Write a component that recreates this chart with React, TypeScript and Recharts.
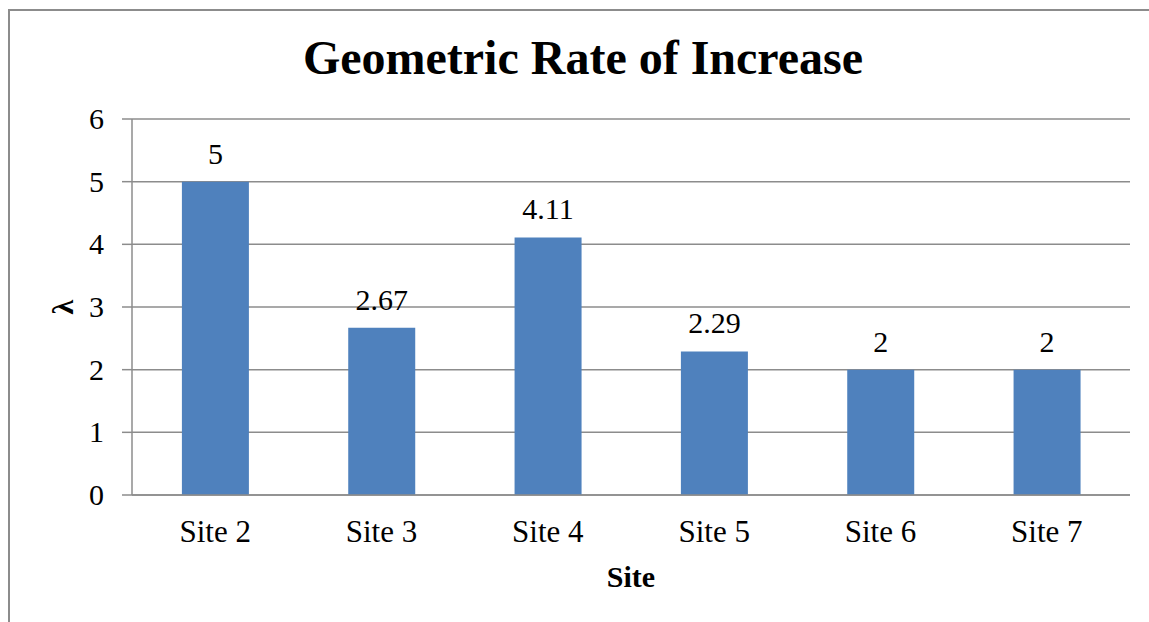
import React from "react";
import { BarChart, Bar, XAxis, YAxis, CartesianGrid, LabelList } from "recharts";

const sites = ["Site 2", "Site 3", "Site 4", "Site 5", "Site 6", "Site 7"];
const lambdaValues = [5, 2.67, 4.11, 2.29, 2, 2];
const yTicks = [0, 1, 2, 3, 4, 5, 6];

const data = sites.map((s, i) => ({ site: s, value: lambdaValues[i] }));

const FONT = '"Liberation Serif", "Times New Roman", serif';
const GRAY = "#8c8c8c";

const XTick = (props: any) => {
  const { x, y, payload } = props;
  return (
    <text x={x} y={y + 39} textAnchor="middle" style={{ fontFamily: FONT, fontSize: 31, fill: "#000" }}>
      {payload.value}
    </text>
  );
};

const YTick = (props: any) => {
  const { x, y, payload } = props;
  return (
    <text x={x} y={y + 10} textAnchor="end" style={{ fontFamily: FONT, fontSize: 30, fill: "#000" }}>
      {payload.value}
    </text>
  );
};

const XLabel = (props: any) => {
  const vb = props.viewBox || {};
  return (
    <text x={vb.x + vb.width / 2} y={587} textAnchor="middle" style={{ fontFamily: FONT, fontSize: 30, fontWeight: "bold", fill: "#000" }}>
      Site
    </text>
  );
};

const YLabel = (props: any) => {
  const vb = props.viewBox || {};
  const cy = vb.y + vb.height / 2;
  const cx = 62;
  return (
    <text
      x={cx}
      y={cy}
      textAnchor="middle"
      dominantBaseline="central"
      transform={`rotate(-90 ${cx} ${cy})`}
      style={{ fontFamily: FONT, fontSize: 30, fontWeight: "bold", fill: "#000" }}
    >
      λ
    </text>
  );
};

const ValueLabel = (props: any) => {
  const { x, y, width, value } = props;
  return (
    <text x={x + width / 2} y={y - 18} textAnchor="middle" style={{ fontFamily: FONT, fontSize: 30, fill: "#000" }}>
      {value}
    </text>
  );
};

export default function App() {
  return (
    <div style={{ position: "absolute", left: 0, top: 0, width: 1149, height: 622, background: "#fff", fontFamily: FONT, overflow: "hidden" }}>
      <div
        style={{
          position: "absolute",
          left: 8,
          top: 9,
          width: 1200,
          height: 700,
          borderLeft: `2px solid ${GRAY}`,
          borderTop: `2px solid ${GRAY}`,
        }}
      />
      <div
        style={{
          position: "absolute",
          left: 83,
          width: 1000,
          top: 34,
          textAlign: "center",
          fontSize: 48,
          fontWeight: "bold",
          lineHeight: "48px",
          color: "#000",
          whiteSpace: "nowrap",
        }}
      >
        Geometric Rate of Increase
      </div>
      <div style={{ position: "absolute", left: 0, top: 0 }}>
        <BarChart
          width={1149}
          height={622}
          data={data}
          margin={{ top: 119, right: 19, bottom: 27, left: 32 }}
          barCategoryGap="30%"
        >
          <CartesianGrid horizontal vertical={false} stroke={GRAY} strokeWidth={1.5} />
          <XAxis
            dataKey="site"
            axisLine={{ stroke: GRAY, strokeWidth: 1.5 }}
            tickLine={false}
            height={100}
            tick={<XTick />}
            label={<XLabel />}
          />
          <YAxis
            width={100}
            domain={[0, 6]}
            ticks={yTicks}
            interval={0}
            axisLine={{ stroke: GRAY, strokeWidth: 1.5 }}
            tickLine={{ stroke: GRAY, strokeWidth: 1.5 }}
            tickSize={10}
            tickMargin={18}
            tick={<YTick />}
            label={<YLabel />}
          />
          <Bar dataKey="value" fill="#4F81BD" isAnimationActive={false}>
            <LabelList dataKey="value" content={<ValueLabel />} />
          </Bar>
        </BarChart>
      </div>
    </div>
  );
}
